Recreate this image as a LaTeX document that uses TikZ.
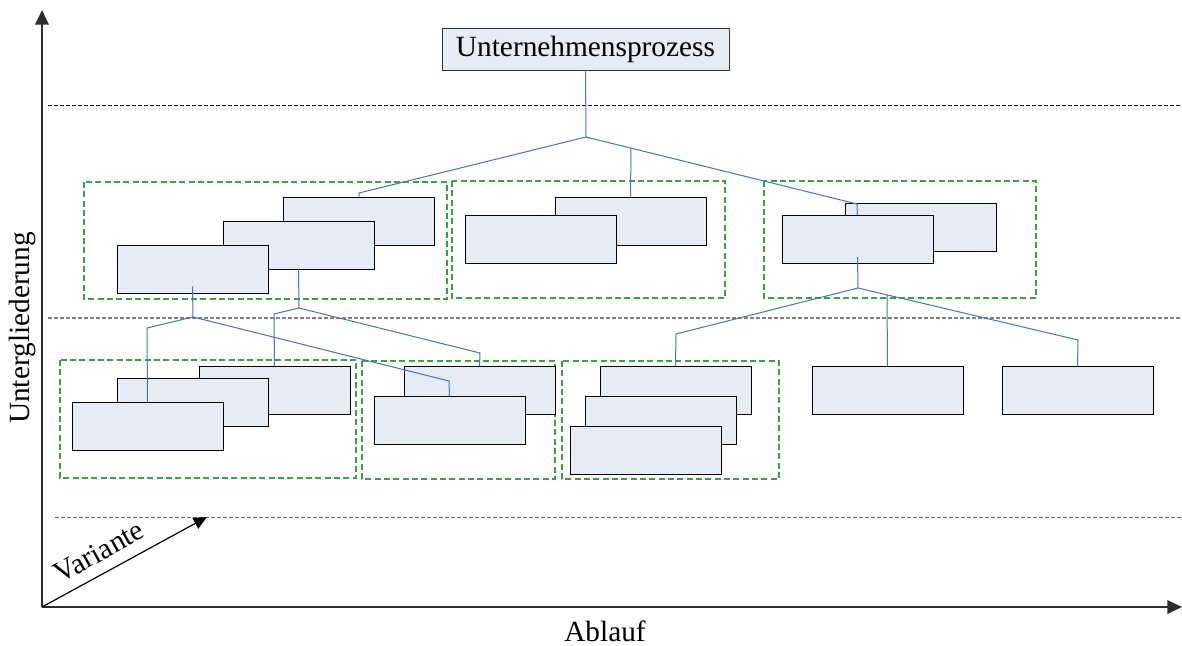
\documentclass[tikz,border=0pt]{standalone}
\usepackage{fontspec}
\setmainfont{Liberation Serif}
\usetikzlibrary{arrows.meta}
\definecolor{boxfill}{RGB}{230,236,246}
\definecolor{linkblue}{RGB}{68,114,196}
\definecolor{grpgreen}{RGB}{60,160,60}
\definecolor{axisgray}{RGB}{45,45,45}
\begin{document}
\begin{tikzpicture}[x=0.75pt,y=-0.75pt,
  pbox/.style={draw=black, fill=boxfill, line width=0.7pt, minimum width=113.25pt,
    minimum height=36pt, inner sep=0pt, outer sep=0pt, anchor=north west},
  topbox/.style={draw=black!80, fill=boxfill, line width=0.7pt, minimum width=215.25pt,
    minimum height=31.5pt, inner sep=0pt, outer sep=0pt},
  link/.style={draw=linkblue, line width=0.75pt},
  grp/.style={draw=grpgreen, line width=0.9pt, dash pattern=on 4.5pt off 2.5pt},
  level/.style={line width=0.75pt, dash pattern=on 3pt off 1.5pt},
  axis/.style={draw=axisgray, line width=1.6pt, -{Triangle[length=11pt,width=10pt]}},
  lbl/.style={font=\fontsize{22}{26}\selectfont, inner sep=0pt}]
\useasboundingbox (0,0) rectangle (1182,646);
\fill[white] (0,0) rectangle (1182,646);

% level separators
\draw[level, black] (48,105) -- (1182,105);
\draw[level, black!50, line width=1.3pt] (48,318) -- (1182,318);
\draw[level, black!60] (55,517) -- (1182,517);

% axes
\coordinate (O) at (42,607);
\coordinate (yend) at (42,10);
\coordinate (xend) at (1182,607);
\coordinate (vend) at (207,517);
\draw[axis] (O) -- (yend);
\draw[axis] (O) -- (xend);
\draw[black, line width=0.9pt, -{Triangle[length=10pt,width=9pt]}] (O) -- (vend);
\node[lbl] (ylab) at (22,328) [rotate=90] {Untergliederung};
\node[lbl] (xlab) at (605,631) {Ablauf};
\node[lbl] (vlab) at (99,552) [rotate=29] {Variante};

% groups
\draw[grp] (84,182) rectangle (447,299);
\draw[grp] (452,181) rectangle (725,298);
\draw[grp] (764,181) rectangle (1036,298);
\draw[grp] (60,360) rectangle (356,478);
\draw[grp] (362,361) rectangle (555,479);
\draw[grp] (562,361) rectangle (779,479);

% top process
\node[topbox] (top) at (585.5,49) {\fontsize{22}{26}\selectfont Unternehmensprozess};

% first level
\node[pbox] (g1a) at (283,197) {};
\node[pbox] (g1b) at (223,221) {};
\node[pbox] (g1c) at (117,245) {};
\node[pbox] (g2a) at (555,197) {};
\node[pbox] (g2b) at (465,215) {};
\node[pbox] (g3a) at (845,203) {};
\node[pbox] (g3b) at (782,215) {};

% second level
\node[pbox] (g4a) at (199,366) {};
\node[pbox] (g4b) at (117,378) {};
\node[pbox] (g4c) at (72,402) {};
\node[pbox] (g5a) at (404,366) {};
\node[pbox] (g5b) at (374,396) {};
\node[pbox] (g6a) at (600,366) {};
\node[pbox] (g6b) at (585,396) {};
\node[pbox] (g6c) at (570,426) {};
\node[pbox] (bA) at (812,366) {};
\node[pbox] (bB) at (1002,366) {};

% junctions and bends
\coordinate (J0) at (586,137);
\coordinate (K1) at (359,193);
\coordinate (K3) at (857,204);
\coordinate (M2) at (631,148);
\coordinate (J1) at (193,317);
\coordinate (J2) at (299,308);
\coordinate (J3) at (858,288);
\coordinate (L1) at (147,328);
\coordinate (R1) at (449,381);
\coordinate (L2) at (274,314);
\coordinate (R2) at (480,353);
\coordinate (L3) at (676,334);
\coordinate (M3) at (887,295);
\coordinate (R3) at (1078,340);

% connectors
\draw[link] (top.south) -- (J0);
\draw[link] (J0) -- (K1) -- (K1 |- g1a.north);
\draw[link] (J0) -- (K3) -- (g3b.north);
\draw[link] (M2) -- (g2a.north);

\draw[link] ([yshift=5pt]g1c.south) -- (J1);
\draw[link] (J1) -- (L1) -- (g4c.north);
\draw[link] (J1) -- (R1) -- (g5b.north);
\draw[link] (g1b.south) -- (J2);
\draw[link] (J2) -- (L2) -- (g4a.north);
\draw[link] (J2) -- (R2) -- (g5a.north);

\draw[link] ([yshift=4.5pt]g3b.south) -- (J3);
\draw[link] (J3) -- (L3) -- (g6a.north);
\draw[link] (J3) -- (R3) -- (bB.north);
\draw[link] (M3) -- (bA.north);
\end{tikzpicture}
\end{document}
